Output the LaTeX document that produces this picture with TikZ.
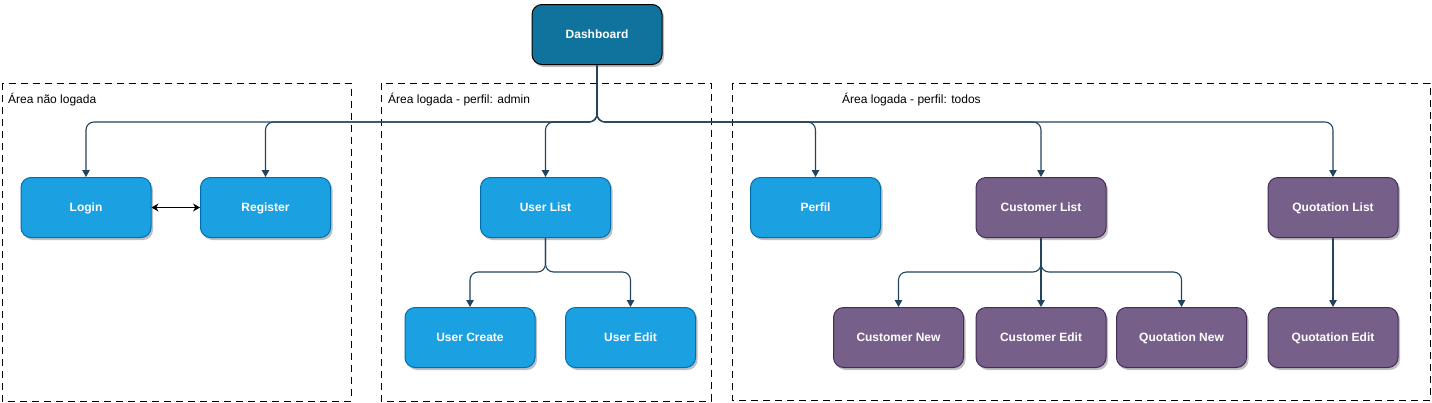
\documentclass[tikz,border=0pt]{standalone}
\usepackage{fontspec}
\setmainfont{Liberation Sans}
\usetikzlibrary{arrows.meta,shadows}
\definecolor{bluef}{HTML}{1BA1E2}
\definecolor{blues}{HTML}{006EAF}
\definecolor{dashf}{HTML}{10739E}
\definecolor{purf}{HTML}{76608A}
\definecolor{purs}{HTML}{432D57}
\definecolor{edgec}{HTML}{23445D}
\begin{document}
\begin{tikzpicture}[x=1pt,y=-1pt,
  box/.style={rectangle,rounded corners=10pt,minimum width=130pt,minimum height=60pt,
    inner sep=0pt,line width=1pt,text=white,font=\bfseries\fontsize{12}{14}\selectfont,
    text height=8.6pt,text depth=0pt,
    drop shadow={shadow xshift=2pt,shadow yshift=-2.5pt,opacity=0.25,fill=black}},
  bluebox/.style={box,fill=bluef,draw=blues},
  purbox/.style={box,fill=purf,draw=purs},
  dashbox/.style={box,fill=dashf,draw=black},
  area/.style={draw=black,line width=1pt,dash pattern=on 7pt off 5pt},
  arealabel/.style={anchor=west,inner sep=0pt,font=\fontsize{12}{14}\selectfont},
  edge/.style={draw=edgec,line width=1.1pt,rounded corners=8pt,-{Triangle[width=7.5pt,length=7pt]}},
  twoway/.style={draw=black,line width=1pt,{Stealth[width=8pt,length=7pt]}-{Stealth[width=8pt,length=7pt]}}
]
\useasboundingbox (0,0) rectangle (1432,402);
\fill[white] (0,0) rectangle (1432,402);
% areas
\draw[area] (2,83) rectangle (351,401);
\draw[area] (381,83) rectangle (711,401);
\draw[area] (732,83) rectangle (1430,400);
\node[arealabel] (lab1) at (8,100) {Área não logada};
\node[arealabel] (lab2) at (388,100) {Área logada - perfil: admin};
\node[arealabel] (lab3) at (842,100) {Área logada - perfil: todos};
% nodes
\node[dashbox] (dash) at (597,34.5) {Dashboard};
\node[bluebox] (login) at (86,207.5) {Login};
\node[bluebox] (reg) at (265.5,207.5) {Register};
\node[bluebox] (ul) at (545.5,207.5) {User List};
\node[bluebox] (uc) at (470,337.5) {User Create};
\node[bluebox] (ue) at (630.5,337.5) {User Edit};
\node[bluebox] (perf) at (815.5,207.5) {Perfil};
\node[purbox] (cl) at (1041,207.5) {Customer List};
\node[purbox] (ql) at (1333,207.5) {Quotation List};
\node[purbox] (cn) at (898.5,337.5) {Customer New};
\node[purbox] (ce) at (1041,337.5) {Customer Edit};
\node[purbox] (qn) at (1181.5,337.5) {Quotation New};
\node[purbox] (qe) at (1333,337.5) {Quotation Edit};
% bus coordinates
\coordinate (bus) at (597,122);
\coordinate (ulbus) at (545.5,272);
\coordinate (clbus) at (1041,272);
% edges
\draw[edge] (dash.south) -- (bus) -| (login.north);
\draw[edge] (dash.south) -- (bus) -| (reg.north);
\draw[edge] (dash.south) -- (bus) -| (ul.north);
\draw[edge] (dash.south) -- (bus) -| (perf.north);
\draw[edge] (dash.south) -- (bus) -| (cl.north);
\draw[edge] (dash.south) -- (bus) -| (ql.north);
\draw[edge] (ul.south) -- (ulbus) -| (uc.north);
\draw[edge] (ul.south) -- (ulbus) -| (ue.north);
\draw[edge] (cl.south) -- (clbus) -| (cn.north);
\draw[edge] (cl.south) -- (ce.north);
\draw[edge] (cl.south) -- (clbus) -| (qn.north);
\draw[edge] (ql.south) -- (qe.north);
\draw[twoway] (login.east) -- (reg.west);
\end{tikzpicture}
\end{document}
